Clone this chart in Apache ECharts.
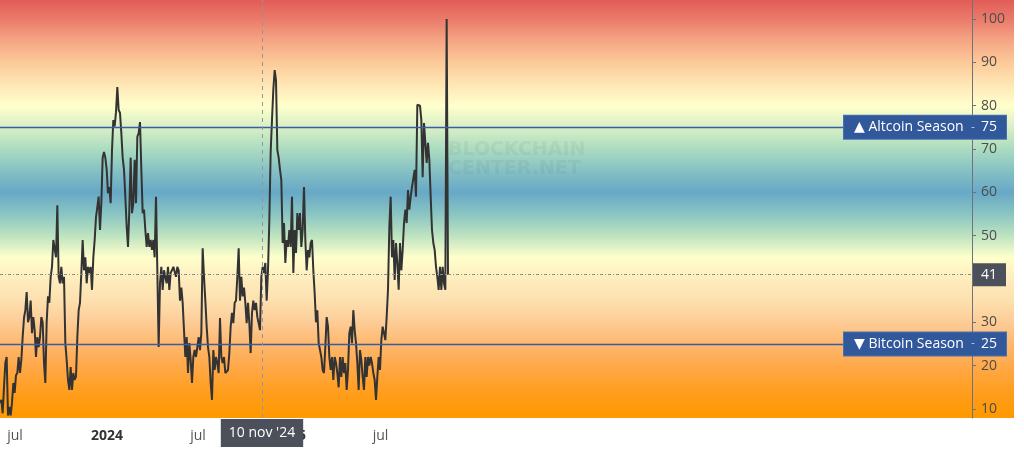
<!DOCTYPE html>
<html><head><meta charset="utf-8">
<script src="https://cdn.jsdelivr.net/npm/echarts@6/dist/echarts.min.js"></script>
<style>html,body{margin:0;padding:0;background:#fff}#c{width:1024px;height:454px}</style>
</head><body><div id="c"></div>
<script>
// ---- data ----
const startDay = 151;          // days since 2023-01-01 of the first reading
const stepDays = 8 / 3;        // spacing between readings (days)
const seasonIndex = [
  11.4, 12.1, 9, 15, 20.6, 22, 8.5, 10.5, 8.5, 11.4,
  16, 13.7, 17.8, 18.3, 22, 18.3, 21.3, 26.6, 31, 32.8,
  37, 30, 31.2, 35, 27.5, 31.2, 28.2, 22, 26.6, 24.3,
  26.6, 31.2, 30, 20.6, 16, 30, 36, 34.5, 40.5, 42.8,
  49, 49, 45, 57, 40.5, 39, 42.8, 39, 40.5, 25.2,
  21.3, 16.7, 14.4, 19.7, 14.4, 18.3, 16.7, 17.5, 26.6, 32.8,
  34.5, 41.4, 49, 42, 45, 39, 42.8, 41.4, 42.8, 37.5,
  45, 49, 54.3, 56.6, 59, 51.3, 57.5, 68, 69.3, 68,
  65.2, 59.8, 61.2, 57.5, 69.7, 76.7, 75.2, 78.5, 84.3, 79,
  78.3, 73.7, 68, 65.2, 59, 52.1, 47.4, 56, 68, 55.2,
  57.5, 67.5, 57.5, 72.8, 73.7, 76.2, 65.2, 55.2, 56, 51.3,
  47.4, 50.6, 47.4, 49, 46.7, 49, 45,
  59, 42, 24.3, 39, 42.8, 37.5, 42, 40.5, 39, 42.8,
  37.5, 41.4, 42, 42.8, 42.8, 40.5, 42.8, 42, 35, 38,
  34.5, 28.2, 22, 26.6, 18.3, 25.2, 21.3, 16, 22, 23.6,
  22, 24.3, 26.6, 23.6, 27.5, 47.1, 40.5, 35, 29, 24.3,
  22, 16, 12.1, 23.6, 19, 22, 20.6, 18.3, 31, 22,
  20.6, 22, 18.3, 18.3, 19, 22.9, 29, 32.2, 29.8, 34.5,
  35, 40.5, 47.1, 35, 40.5, 36, 38, 34.5, 29.8, 34.5,
  29.8, 22.9, 32.2, 35, 32.8, 34.5, 31.2, 29.8, 28.2, 40.5,
  42.8, 41.4, 43.7, 35, 42, 53.5, 69.3, 76.7, 83.7, 88.2,
  85.9, 69.8, 68, 65.2, 62.8, 48.3, 52.9, 43.7, 49, 47.4,
  51.3, 47.4, 59, 41.4, 51.3, 46, 55.2, 51.3, 55.2, 47.4,
  51.3, 61.2,
  49, 42, 46.7, 45, 48.3, 49, 42, 36.7, 30, 32.8,
  25.2, 23.6, 22, 19, 18.3, 24.3, 31.2, 29, 22, 19,
  22, 16.7, 22, 20.6, 18.3, 15, 22, 17.4, 22, 18.3,
  20.6, 14.4, 19, 27.5, 29, 25.2, 32.8, 28.2, 25.2, 20.6,
  14.4, 23.6, 21.3, 17.4, 14.4, 22, 17.4, 22, 20, 22,
  20.6, 18.3, 16.7, 12.1, 17.4, 22, 19, 25.9, 29, 27.5,
  25.9, 31.2, 37.5, 52, 59, 45, 49, 39.8, 48.3, 43.7,
  37.5, 48.3, 42, 46.7, 52.9, 56, 52.9, 60.5, 56, 59,
  61.2, 61.2, 65.2, 59, 80.2, 80, 80, 76.7, 63.5, 76,
  71.4, 66.8, 71.4, 67.5, 59, 51.3, 48.3, 46.7, 42.8, 40.5,
  37.5, 42.8, 37.5, 42.8, 39, 37.5,
  100, 41
];
const xTickDays = [181, 365, 547, 731, 912];
const xTickLabels = ['jul', '2024', 'jul', '2025', 'jul'];
const yTicks = [10, 20, 30, 40, 50, 60, 70, 80, 90, 100];
const altcoinLevel = 75;
const bitcoinLevel = 25;
const currentValue = 41;
const crosshairDay = 675;
const crosshairLabel = "10 nov '24";

// ---- chart ----
const FONT = "'Open Sans', 'DejaVu Sans', sans-serif";
const lineData = seasonIndex.map((v, i) => [startDay + i * stepDays, v]);

const bgStops = [
  [0.000, '#e15c58'], [0.045, '#ea7a6a'], [0.097, '#f5a584'], [0.149, '#fcc998'],
  [0.201, '#fee6b4'], [0.253, '#ffffcc'], [0.305, '#d8efc6'], [0.356, '#acdcc0'],
  [0.408, '#86c1c4'], [0.460, '#67a8c6'], [0.512, '#8ac5c2'], [0.564, '#bde3c0'],
  [0.616, '#ffffcc'], [0.667, '#feecbd'], [0.719, '#fde0af'], [0.771, '#fdcc96'],
  [0.823, '#fdb86e'], [0.875, '#ffa94a'], [0.927, '#ff9f25'], [0.978, '#ff9a0a'],
  [1.000, '#ff9900']
].map(s => ({ offset: s[0], color: s[1] }));

const seasonLabel = (arrow, name, lvl) => ({
  show: true,
  position: 'end',
  distance: 0,
  offset: [-128, 0],
  formatter: '{a|' + arrow + ' ' + name + '}{d|-}{b|' + lvl + '}',
  backgroundColor: '#30589a',
  borderColor: '#4a70b0',
  borderWidth: 1,
  padding: [4, 6, 4, 10],
  rich: {
    a: { color: '#fff', fontSize: 14, fontFamily: FONT, width: 114, lineHeight: 15 },
    d: { color: '#b8c4dc', fontSize: 12, fontFamily: FONT, width: 10, align: 'center', lineHeight: 15 },
    b: { color: '#fff', fontSize: 14, fontFamily: FONT, width: 22, align: 'center', lineHeight: 15 }
  }
});

const chart = echarts.init(document.getElementById('c'), null, { renderer: 'canvas' });
chart.setOption({
  animation: false,
  axisPointer: { triggerOn: 'none' },
  grid: { left: 0, right: 52, top: 0, bottom: 36, containLabel: false },
  graphic: [
    {
      type: 'rect', z: -100, silent: true,
      shape: { x: 0, y: 0, width: 1014, height: 418 },
      style: { fill: new echarts.graphic.LinearGradient(0, 0, 0, 1, bgStops) }
    },
    {
      type: 'text', z: -50, silent: true, left: 448, top: 141,
      style: {
        text: 'BLOCKCHAIN\nCENTER.NET', fill: 'rgba(80,90,90,0.08)',
        font: 'bold 19px "DejaVu Sans"', lineHeight: 19
      }
    }
  ],
  xAxis: {
    type: 'value', min: 151, max: 2095,
    axisLine: { show: false }, axisTick: { show: false }, splitLine: { show: false },
    axisLabel: {
      customValues: xTickDays,
      margin: 11,
      color: '#555', fontSize: 14, fontFamily: FONT,
      formatter: v => {
        const t = xTickLabels[xTickDays.indexOf(v)];
        return /^\d{4}$/.test(t) ? '{y|' + t + '}' : t;
      },
      rich: { y: { fontWeight: 'bold', color: '#333', fontSize: 14, fontFamily: FONT } }
    },
    axisPointer: {
      show: true, status: 'show', value: crosshairDay, snap: false, triggerTooltip: false,
      lineStyle: { color: '#8f96a0', width: 1, type: [4, 4] },
      label: {
        show: true, formatter: () => crosshairLabel, margin: 1,
        backgroundColor: '#4b505b', color: '#fff', fontSize: 14, fontFamily: FONT,
        padding: [7, 8, 7, 8], borderRadius: 0
      }
    }
  },
  yAxis: {
    type: 'value', position: 'right', min: 7.92, max: 104.38,
    splitLine: { show: false },
    axisLine: { show: true, lineStyle: { color: '#6d737d', width: 1 } },
    axisTick: { show: true, length: 4, customValues: yTicks, lineStyle: { color: '#6d737d' } },
    axisLabel: { customValues: yTicks, margin: 9, color: '#4d4d4d', fontSize: 14, fontFamily: FONT }
  },
  series: [{
    type: 'line',
    data: lineData,
    symbol: 'none',
    z: 3,
    lineStyle: { color: '#333333', width: 2 },
    markLine: {
      silent: true, symbol: 'none', animation: false,
      data: [
        { yAxis: altcoinLevel, lineStyle: { color: '#3b5ca0', width: 1.4, type: 'solid' },
          label: seasonLabel('▲', 'Altcoin Season', altcoinLevel) },
        { yAxis: bitcoinLevel, lineStyle: { color: '#3b5ca0', width: 1.4, type: 'solid' },
          label: seasonLabel('▼', 'Bitcoin Season', bitcoinLevel) },
        { yAxis: currentValue, lineStyle: { color: '#8d8d8d', width: 1, type: [3, 2, 1, 2] },
          label: {
            show: true, position: 'end', distance: 0, offset: [1, 0],
            formatter: String(currentValue), backgroundColor: '#4b505b', color: '#fff',
            fontSize: 14, fontFamily: FONT, lineHeight: 15, padding: [4, 8, 4, 8], width: 17
          } }
      ]
    }
  }]
});
</script></body></html>
